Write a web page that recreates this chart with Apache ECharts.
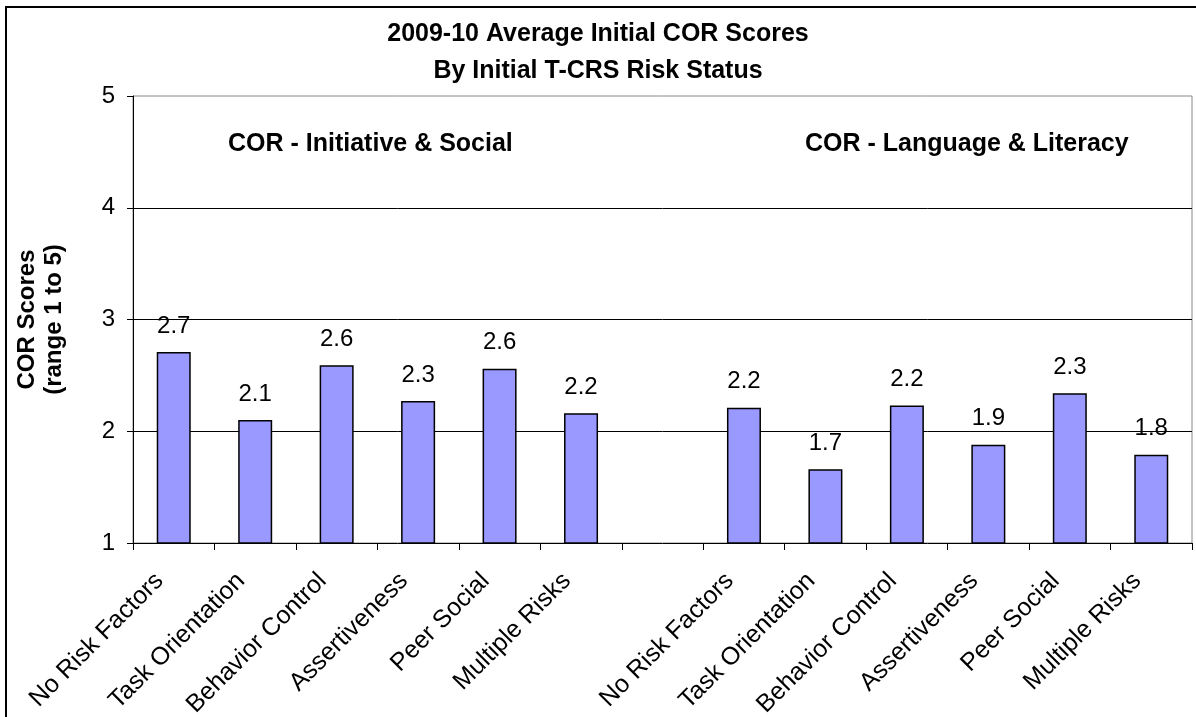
<!DOCTYPE html>
<html>
<head>
<meta charset="utf-8">
<script src="https://cdn.jsdelivr.net/npm/echarts@6/dist/echarts.min.js"></script>
<style>
  html, body { margin: 0; padding: 0; background: #fff; }
  #chart { width: 1196px; height: 717px; }
</style>
</head>
<body>
<div id="chart"></div>
<script>
// Chart text
const titleLines = ['2009-10 Average Initial COR Scores', 'By Initial T-CRS Risk Status'];
const groupNames = ['COR - Initiative & Social', 'COR - Language & Literacy'];
const yAxisTitle = ['COR Scores', '(range 1 to 5)'];

// Risk status categories (repeated for each COR domain)
const riskCategories = ['No Risk Factors', 'Task Orientation', 'Behavior Control', 'Assertiveness', 'Peer Social', 'Multiple Risks'];

// Average initial COR scores per risk status
const initiativeSocial = [2.71, 2.10, 2.59, 2.27, 2.56, 2.16];
const languageLiteracy = [2.21, 1.66, 2.23, 1.88, 2.34, 1.79];

// Value axis ticks
const yTicks = [1, 2, 3, 4, 5];

// One empty slot separates the two domains
const categories = riskCategories.concat([''], riskCategories);
const values = initiativeSocial.concat([null], languageLiteracy);

const FONT = '"Liberation Sans", Arial, sans-serif';
const chart = echarts.init(document.getElementById('chart'));

chart.setOption({
  animation: false,
  backgroundColor: '#fff',
  textStyle: { fontFamily: FONT },
  title: {
    text: titleLines.join('\n'),
    left: 'center',
    top: 11,
    textStyle: { fontFamily: FONT, fontSize: 25, fontWeight: 'bold', color: '#000', lineHeight: 37 }
  },
  grid: {
    left: 133, right: 4, top: 96, bottom: 174,
    outerBoundsMode: 'none',
    containLabel: false,
    show: true, borderColor: '#888', borderWidth: 1, backgroundColor: 'transparent'
  },
  xAxis: {
    type: 'category',
    data: categories,
    boundaryGap: true,
    axisLine: { lineStyle: { color: '#000', width: 1 } },
    axisTick: { show: true, length: 7, alignWithLabel: false, lineStyle: { color: '#000' } },
    axisLabel: {
      interval: 0, rotate: 45, margin: 20,
      padding: [0, 20, 0, 0],
      fontFamily: FONT, fontSize: 25, color: '#000'
    },
    splitLine: { show: false }
  },
  yAxis: {
    type: 'value',
    min: yTicks[0],
    max: yTicks[yTicks.length - 1],
    interval: 1,
    name: yAxisTitle.join('\n'),
    nameLocation: 'middle',
    nameGap: 65,
    nameRotate: 90,
    nameTextStyle: { fontFamily: FONT, fontSize: 24, fontWeight: 'bold', color: '#000', lineHeight: 27 },
    axisLine: { show: true, lineStyle: { color: '#000', width: 1 } },
    axisTick: { show: true, length: 6, lineStyle: { color: '#000' } },
    axisLabel: { fontFamily: FONT, fontSize: 24, color: '#000', margin: 18 },
    splitLine: { show: true, showMinLine: false, showMaxLine: false, lineStyle: { color: '#000', width: 1 } }
  },
  graphic: [
    {
      type: 'rect', silent: true, z: 100,
      shape: { x: 6, y: 7, width: 1400, height: 900 },
      style: { fill: 'transparent', stroke: '#000', lineWidth: 2 }
    },
    {
      type: 'text', left: 228, top: 132, silent: true,
      style: { text: groupNames[0], font: 'bold 25px ' + FONT, fill: '#000' }
    },
    {
      type: 'text', left: 805, top: 132, silent: true,
      style: { text: groupNames[1], font: 'bold 25px ' + FONT, fill: '#000' }
    }
  ],
  series: [{
    type: 'bar',
    data: values,
    barWidth: 34,
    itemStyle: { color: '#9999FF', borderColor: '#000', borderWidth: 1.5 },
    label: {
      show: true, position: 'top', distance: 14,
      fontFamily: FONT, fontSize: 24, color: '#000',
      formatter: p => (p.value == null ? '' : p.value.toFixed(1))
    }
  }]
});
</script>
</body>
</html>
